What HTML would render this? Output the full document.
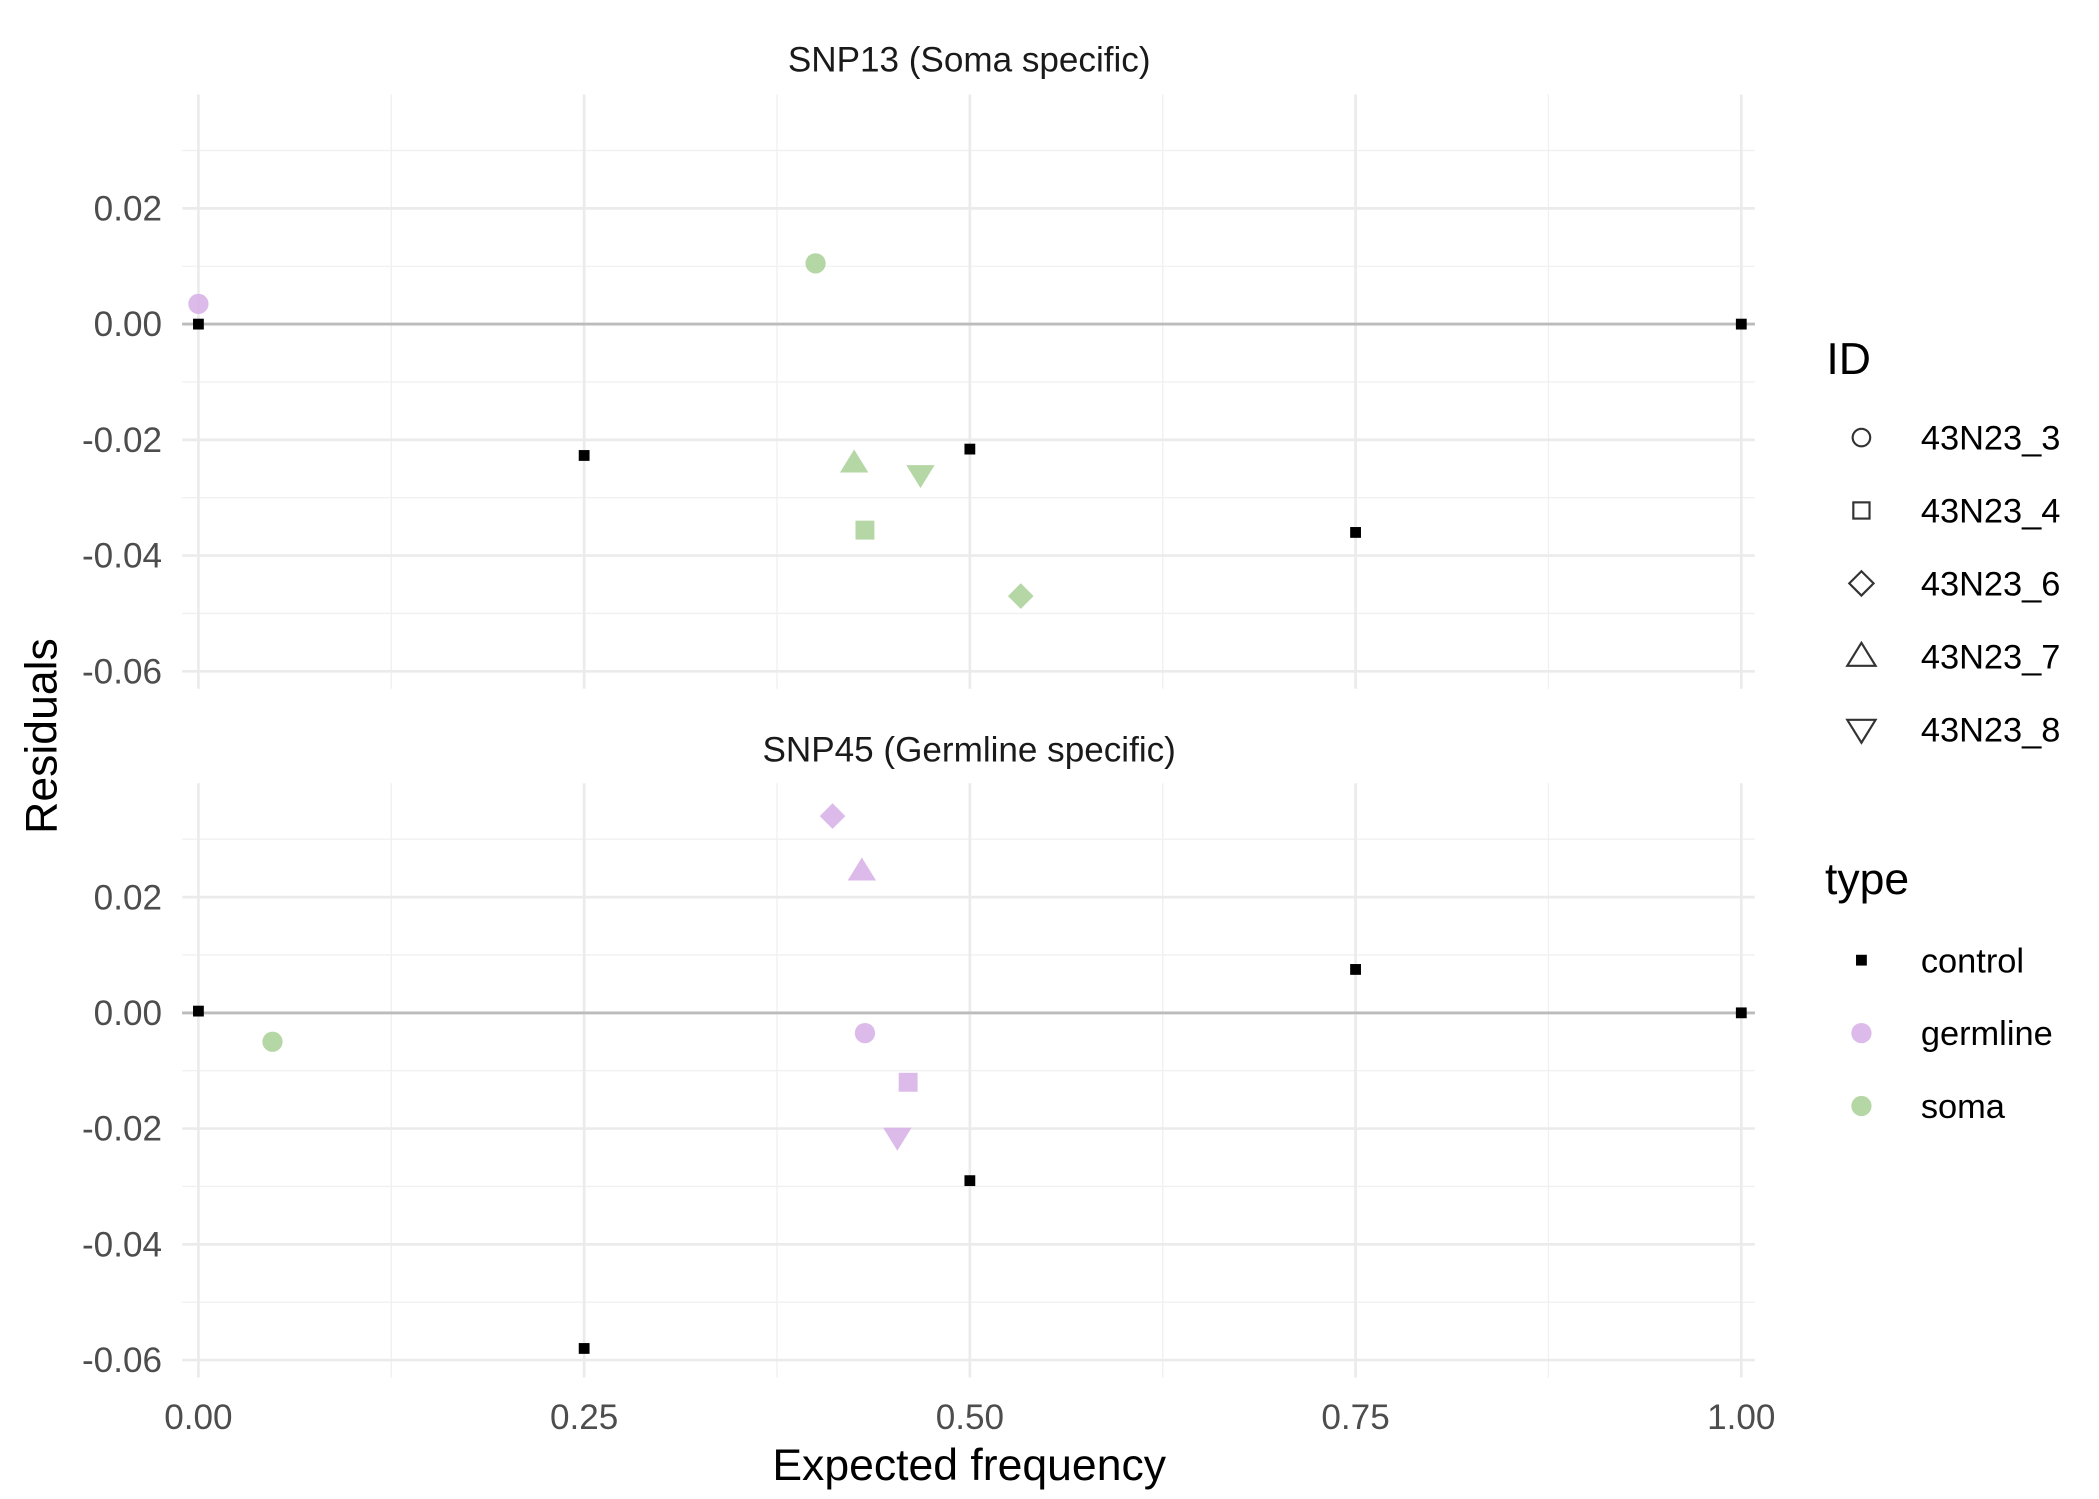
<!DOCTYPE html>
<html><head><meta charset="utf-8"><style>html,body{margin:0;padding:0;background:#fff}svg{display:block}</style></head>
<body>
<svg id="chart" width="2099" height="1499" viewBox="0 0 1555 1110" preserveAspectRatio="none" xmlns="http://www.w3.org/2000/svg" font-family="Liberation Sans, sans-serif">
<g id="panels"></g>
<g id="legend">
  <text x="1353" y="277" font-size="33" fill="#000">ID</text>
  <text x="1352" y="662" font-size="33" fill="#000">type</text>
</g>
<text transform="translate(42,545) rotate(-90)" text-anchor="middle" font-size="33" fill="#000">Residuals</text>
<text x="718" y="1096" text-anchor="middle" font-size="33" fill="#000">Expected frequency</text>
</svg>
<script>
const xTicks = [0, 0.25, 0.5, 0.75, 1];
const xTickLabels = ["0.00", "0.25", "0.50", "0.75", "1.00"];
const yTicks = [0.02, 0, -0.02, -0.04, -0.06];
const yTickLabels = ["0.02", "0.00", "-0.02", "-0.04", "-0.06"];
const panelTitles = ["SNP13 (Soma specific)", "SNP45 (Germline specific)"];
const idLabels = ["43N23_3", "43N23_4", "43N23_6", "43N23_7", "43N23_8"];
const typeLabels = ["control", "germline", "soma"];
// panel 1 points
const p1X = [0, 0.25, 0.5, 0.75, 1, 0, 0.40, 0.425, 0.468, 0.432, 0.533];
const p1Y = [0, -0.0227, -0.0216, -0.036, 0, 0.0035, 0.0105, -0.024, -0.026, -0.0356, -0.047];
const p1Type = ["control","control","control","control","control","germline","soma","soma","soma","soma","soma"];
const p1Shape = ["sq","sq","sq","sq","sq","circle","circle","tri","tridown","square","diamond"];
// panel 2 points
const p2X = [0, 0.25, 0.5, 0.75, 1, 0.411, 0.43, 0.432, 0.46, 0.453, 0.048];
const p2Y = [0.0003, -0.058, -0.029, 0.0075, 0, 0.034, 0.0245, -0.0035, -0.012, -0.0215, -0.005];
const p2Type = ["control","control","control","control","control","germline","germline","germline","germline","germline","soma"];
const p2Shape = ["sq","sq","sq","sq","sq","diamond","tri","circle","square","tridown","circle"];

const NS = "http://www.w3.org/2000/svg";
const colors = {control:"#000", germline:"#d6aee6", soma:"#a8d095"};
function mk(tag, attrs, parent){const e=document.createElementNS(NS,tag);for(const k in attrs)e.setAttribute(k,attrs[k]);parent.appendChild(e);return e;}
const xScale = v => 147 + v*1143;
const panels = [{top:70,bot:510,zero:240,title:44},{top:580,bot:1020,zero:750,title:555}];
const yPer = 85.7/0.02;
function drawShape(g, shape, cx, cy, color, stroke){
  let e;
  const fill = stroke ? "none" : color;
  const sw = stroke ? 1.6 : 0;
  const st = stroke ? "#333" : "none";
  if(shape==="sq"){e=mk("rect",{x:cx-4,y:cy-4,width:8,height:8,fill:color},g);}
  else if(shape==="circle"){e=mk("circle",{cx:cx,cy:cy,r:stroke?6.5:7.5,fill:fill,stroke:st,"stroke-width":sw,"fill-opacity":0.85},g);}
  else if(shape==="square"){const s=stroke?6:7;e=mk("rect",{x:cx-s,y:cy-s,width:2*s,height:2*s,fill:fill,stroke:st,"stroke-width":sw,"fill-opacity":0.85},g);}
  else if(shape==="diamond"){const s=stroke?9:9.5;e=mk("polygon",{points:`${cx},${cy-s} ${cx+s},${cy} ${cx},${cy+s} ${cx-s},${cy}`,fill:fill,stroke:st,"stroke-width":sw,"fill-opacity":0.85},g);}
  else if(shape==="tri"){const s=10;e=mk("polygon",{points:`${cx},${cy-s} ${cx+s*1.05},${cy+s*0.7} ${cx-s*1.05},${cy+s*0.7}`,fill:fill,stroke:st,"stroke-width":sw,"fill-opacity":0.85},g);}
  else {const s=10;e=mk("polygon",{points:`${cx},${cy+s} ${cx+s*1.05},${cy-s*0.7} ${cx-s*1.05},${cy-s*0.7}`,fill:fill,stroke:st,"stroke-width":sw,"fill-opacity":0.85},g);}
  return e;
}
const root = document.getElementById("panels");
const data = [[p1X,p1Y,p1Type,p1Shape],[p2X,p2Y,p2Type,p2Shape]];
panels.forEach((p,pi)=>{
  const g = mk("g",{},root);
  
  
  const yScale = v => p.zero - v*yPer;
  for(let i=0;i<yTicks.length;i++){const v=yTicks[i]+0.01;const y=yScale(v);if(y>p.top&&y<p.bot)mk("line",{x1:135,x2:1300,y1:y,y2:y,stroke:"#f0f0f0","stroke-width":1},g);}
  for(let i=0;i<xTicks.length-1;i++){const x=xScale(xTicks[i]+0.125);mk("line",{x1:x,x2:x,y1:p.top,y2:p.bot,stroke:"#f0f0f0","stroke-width":1},g);}
  yTicks.forEach((v,i)=>{const y=yScale(v);
    mk("line",{x1:135,x2:1300,y1:y,y2:y,stroke:v===0?"#bbbbbb":"#ebebeb","stroke-width":2},g);
    const t=mk("text",{x:120,y:y+9,"text-anchor":"end","font-size":26,fill:"#4d4d4d"},g);t.textContent=yTickLabels[i];
    
    
  });
  xTicks.forEach((v,i)=>{const x=xScale(v);mk("line",{x1:x,x2:x,y1:p.top,y2:p.bot,stroke:"#ebebeb","stroke-width":2},g);
    if(pi===1){const t=mk("text",{x:x,y:1058,"text-anchor":"middle","font-size":26,fill:"#4d4d4d"},g);t.textContent=xTickLabels[i];
    
    }
  });
  mk("line",{x1:135,x2:1300,y1:yScale(0),y2:yScale(0),stroke:"#bbbbbb","stroke-width":2},g);
  const tt=mk("text",{x:718,y:p.title+9,"text-anchor":"middle","font-size":26,fill:"#1a1a1a"},g);tt.textContent=panelTitles[pi];
  
  
  const [xs,ys,ts,ss]=data[pi];
  xs.forEach((xv,i)=>{const e=drawShape(g,ss[i],xScale(xv),yScale(ys[i]),colors[ts[i]],false);
    
    });
});
const lg=document.getElementById("legend");
const idShapes=["circle","square","diamond","tri","tridown"];
idLabels.forEach((l,i)=>{const y=324+i*54;
  const e=drawShape(lg,idShapes[i],1379,y,"none",true);
  
  
  const t=mk("text",{x:1423,y:y+9,"font-size":25.5,fill:"#000"},lg);t.textContent=l;
  
  
});
typeLabels.forEach((l,i)=>{const y=711+i*54;
  const e=drawShape(lg,i===0?"sq":"circle",1379,y,colors[l],false);
  
  
  const t=mk("text",{x:1423,y:y+9,"font-size":25.5,fill:"#000"},lg);t.textContent=l;
  
  
});
</script>
</body></html>
